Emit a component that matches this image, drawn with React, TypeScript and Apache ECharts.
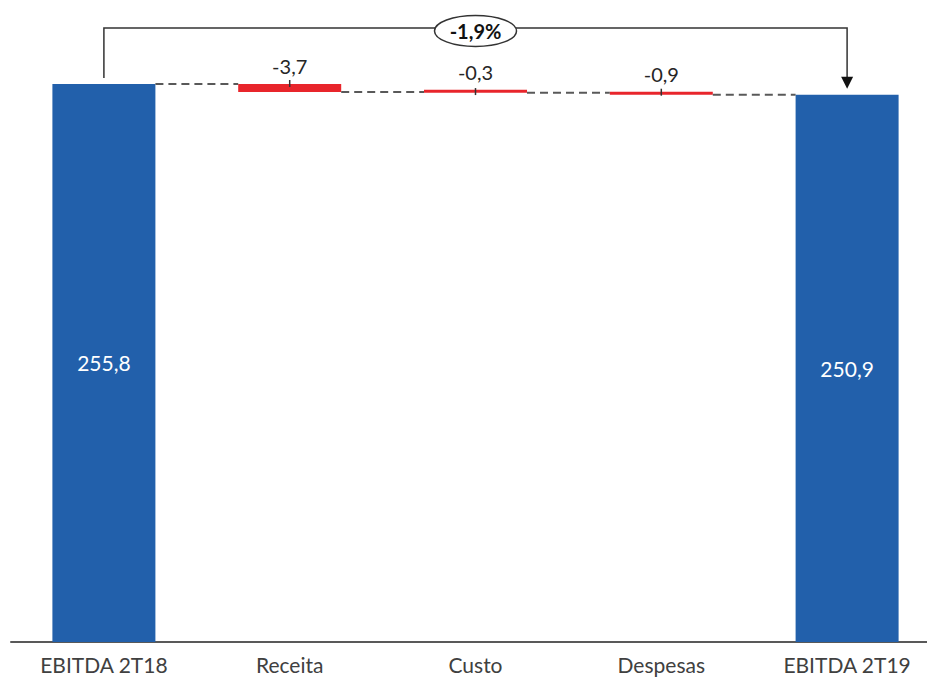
import React, { useEffect, useRef } from "react";
import * as echarts from "echarts";

const categories = ["EBITDA 2T18", "Receita", "Custo", "Despesas", "EBITDA 2T19"];
const values = [255.8, -3.7, -0.3, -0.9, 250.9];
const valueLabels = ["255,8", "-3,7", "-0,3", "-0,9", "250,9"];
const totalFlags = [true, false, false, false, true];
const changeLabel = "-1,9%";
const bracketLevel = 281.5;

const BLUE = "#2260ab";
const RED = "#e8252b";
const FONT = "Lato, 'Open Sans', sans-serif";

export default function App() {
  const ref = useRef<HTMLDivElement>(null);

  useEffect(() => {
    if (!ref.current) return;
    const chart = echarts.init(ref.current, null, { renderer: "svg" });

    const bases: number[] = [];
    const heights: number[] = [];
    const levels: number[] = [];
    let running = 0;
    values.forEach((v, i) => {
      if (totalFlags[i]) {
        bases.push(0);
        heights.push(v);
        running = v;
      } else {
        const next = running + v;
        bases.push(Math.min(running, next));
        heights.push(Math.abs(v));
        running = next;
      }
      levels.push(running);
    });

    const barWidth = 103;
    const connectorData = levels.slice(0, levels.length - 1).map((lv, i) => [i, lv]);

    chart.setOption({
      animation: false,
      grid: { left: 11, width: 929, top: 31.2, bottom: 36 },
      xAxis: {
        type: "category",
        data: categories,
        axisLine: { show: true, lineStyle: { color: "#595959", width: 2 } },
        axisTick: { show: false },
        axisLabel: { fontSize: 21, color: "#404040", fontFamily: FONT, margin: 12 },
      },
      yAxis: {
        type: "value",
        min: 0,
        max: 280,
        show: false,
        splitLine: { show: false },
      },
      series: [
        {
          type: "bar",
          stack: "wf",
          barWidth,
          itemStyle: { color: "transparent" },
          emphasis: { disabled: true },
          data: bases,
          silent: true,
        },
        {
          type: "bar",
          stack: "wf",
          barWidth,
          barMinHeight: 3,
          data: heights.map((h, i) => ({
            value: h,
            itemStyle: { color: totalFlags[i] ? BLUE : RED },
            label: totalFlags[i]
              ? {
                  show: true,
                  position: "inside",
                  color: "#ffffff",
                  fontSize: 21,
                  fontFamily: FONT,
                  formatter: valueLabels[i],
                }
              : {
                  show: true,
                  position: "top",
                  distance: 8,
                  color: "#262626",
                  fontSize: 20,
                  fontFamily: FONT,
                  formatter: valueLabels[i],
                },
          })),
        },
        {
          type: "custom",
          clip: false,
          z: 5,
          silent: true,
          data: connectorData,
          renderItem: (params: any, api: any) => {
            const i = api.value(0);
            const lv = api.value(1);
            const p1 = api.coord([i, lv]);
            const p2 = api.coord([i + 1, lv]);
            const half = barWidth / 2;
            return {
              type: "line",
              shape: { x1: p1[0] + half, y1: p1[1], x2: p2[0] - half, y2: p1[1] },
              style: { stroke: "#595959", lineWidth: 2, lineDash: [8, 5] },
            };
          },
        },
        {
          type: "custom",
          clip: false,
          z: 6,
          silent: true,
          data: heights
            .map((h, i) => [i, bases[i] + h])
            .filter((_, i) => !totalFlags[i]),
          renderItem: (params: any, api: any) => {
            const i = api.value(0);
            const top = api.value(1);
            const p = api.coord([i, top]);
            return {
              type: "line",
              shape: { x1: p[0], y1: p[1] - 4, x2: p[0], y2: p[1] + 3 },
              style: { stroke: "#333333", lineWidth: 1.5 },
            };
          },
        },
        {
          type: "custom",
          clip: false,
          z: 7,
          silent: true,
          data: [[0, categories.length - 1]],
          renderItem: (params: any, api: any) => {
            const a = api.value(0);
            const b = api.value(1);
            const pa = api.coord([a, levels[a]]);
            const pb = api.coord([b, levels[b]]);
            const topY = api.coord([a, bracketLevel])[1];
            const tipY = pb[1] - 6;
            const midX = (pa[0] + pb[0]) / 2;
            const stroke = "#333333";
            return {
              type: "group",
              children: [
                {
                  type: "polyline",
                  shape: {
                    points: [
                      [pa[0], pa[1] - 6],
                      [pa[0], topY],
                      [pb[0], topY],
                      [pb[0], tipY - 10],
                    ],
                  },
                  style: { stroke, lineWidth: 1.5, fill: "none" },
                },
                {
                  type: "polygon",
                  shape: {
                    points: [
                      [pb[0] - 6, tipY - 12],
                      [pb[0] + 6, tipY - 12],
                      [pb[0], tipY],
                    ],
                  },
                  style: { fill: "#111111" },
                },
                {
                  type: "ellipse",
                  shape: { cx: midX, cy: topY + 3, rx: 41, ry: 15.5 },
                  style: { fill: "#ffffff", stroke, lineWidth: 1.5 },
                },
                {
                  type: "text",
                  x: midX,
                  y: topY + 3,
                  style: {
                    text: changeLabel,
                    fill: "#111111",
                    font: `bold 20px ${FONT}`,
                    align: "center",
                    verticalAlign: "middle",
                  },
                },
              ],
            };
          },
        },
      ],
    });

    return () => chart.dispose();
  }, []);

  return (
    <div
      style={{
        position: "fixed",
        left: 0,
        top: 0,
        width: 927,
        height: 678,
        overflow: "hidden",
        background: "#ffffff",
      }}
    >
      <div ref={ref} style={{ width: 945, height: 678 }} />
    </div>
  );
}
